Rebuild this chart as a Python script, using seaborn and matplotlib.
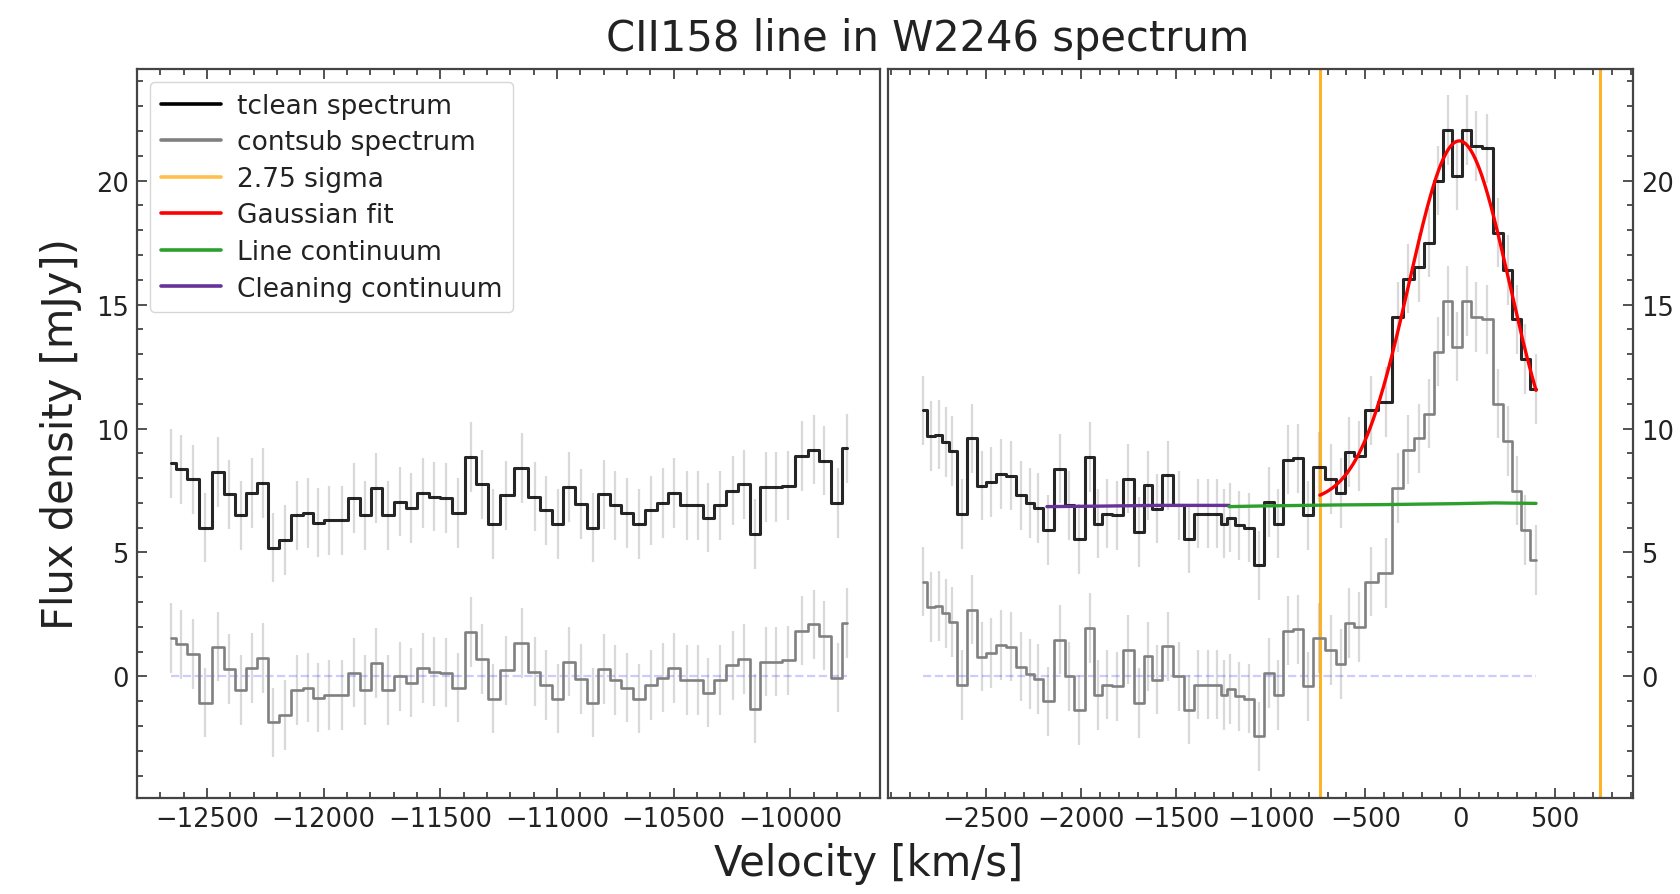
import numpy as np
import pandas as pd
import matplotlib
matplotlib.use("Agg")
import matplotlib.pyplot as plt
from matplotlib.lines import Line2D
from matplotlib.ticker import MultipleLocator, FixedLocator
import seaborn as sns

# ---------------- data ----------------
left_velocity = [-12655, -12610, -12560, -12508, -12452, -12405, -12355, -12308, -12262, -12219,
                 -12165, -12112, -12065, -12022, -11975, -11920, -11869, -11822, -11776, -11722,
                 -11672, -11625, -11575, -11525, -11475, -11422, -11369, -11322, -11272, -11218,
                 -11150, -11094, -11047, -10997, -10947, -10897, -10847, -10797, -10750, -10700,
                 -10647, -10597, -10547, -10497, -10444, -10397, -10354, -10300, -10247, -10197,
                 -10150, -10105, -10060, -10008, -9950, -9900, -9857, -9797, -9757]
left_tclean = [8.6, 8.35, 7.95, 6.0, 8.25, 7.35, 6.5, 7.4, 7.8, 5.2,
               5.5, 6.5, 6.6, 6.2, 6.3, 6.3, 7.2, 6.5, 7.6, 6.5,
               7.05, 6.8, 7.4, 7.25, 7.2, 6.6, 8.85, 7.75, 6.15, 7.3,
               8.4, 7.25, 6.7, 6.15, 7.65, 6.95, 6.0, 7.35, 6.9, 6.6,
               6.15, 6.7, 7.0, 7.4, 6.9, 6.9, 6.4, 6.9, 7.5, 7.75,
               5.75, 7.65, 7.65, 7.7, 8.9, 9.15, 8.7, 7.0, 9.2]
left_contsub = [1.55, 1.3, 0.9, -1.05, 1.2, 0.3, -0.55, 0.35, 0.75, -1.85,
                -1.55, -0.55, -0.45, -0.85, -0.75, -0.75, 0.15, -0.55, 0.55, -0.55,
                0.0, -0.25, 0.35, 0.2, 0.15, -0.45, 1.8, 0.7, -0.9, 0.25,
                1.35, 0.2, -0.35, -0.9, 0.6, -0.1, -1.05, 0.3, -0.15, -0.45,
                -0.9, -0.35, -0.05, 0.35, -0.15, -0.15, -0.65, -0.15, 0.45, 0.7,
                -1.3, 0.6, 0.6, 0.65, 1.85, 2.1, 1.65, -0.05, 2.15]

right_velocity = [-2836, -2790, -2750, -2712, -2680, -2628, -2573, -2525, -2476, -2423,
                  -2371, -2318, -2268, -2228, -2173, -2111, -2063, -2010, -1953, -1909,
                  -1865, -1808, -1750, -1694, -1645, -1602, -1544, -1482, -1430, -1383,
                  -1333, -1283, -1245, -1214, -1166, -1113, -1061, -1008, -960, -908,
                  -857, -805, -744, -682, -630, -584, -535, -471, -392, -326,
                  -273, -216, -164, -115, -67, -15, 34, 82, 144, 201,
                  254, 297, 341, 400]
right_tclean = [10.73, 9.7, 9.75, 9.45, 9.1, 6.56, 9.6, 7.7, 7.84, 8.17,
                8.1, 7.3, 7.0, 6.8, 5.9, 8.38, 6.9, 5.55, 8.85, 6.16,
                6.57, 6.5, 7.98, 5.83, 7.71, 6.77, 8.11, 6.9, 5.56, 6.57,
                6.57, 6.57, 6.16, 6.4, 6.1, 6.0, 4.48, 7.04, 6.16, 8.75,
                8.8, 6.5, 8.45, 7.97, 7.4, 9.05, 8.9, 10.73, 11.07, 14.5,
                16.05, 16.5, 17.5, 20.0, 22.04, 20.2, 22.04, 21.4, 21.3, 17.9,
                16.4, 14.4, 12.8, 11.6]
right_contsub = [3.83, 2.8, 2.85, 2.55, 2.2, -0.34, 2.7, 0.8, 0.94, 1.27,
                 1.2, 0.4, 0.1, -0.1, -1.0, 1.48, 0.0, -1.35, 1.95, -0.74,
                 -0.33, -0.4, 1.08, -1.07, 0.81, -0.13, 1.21, 0.0, -1.34, -0.33,
                 -0.33, -0.33, -0.74, -0.5, -0.8, -0.9, -2.42, 0.14, -0.74, 1.85,
                 1.9, -0.4, 1.55, 1.07, 0.5, 2.15, 2.0, 3.83, 4.17, 7.6,
                 9.15, 9.6, 10.6, 13.1, 15.14, 13.3, 15.14, 14.5, 14.4, 11.0,
                 9.5, 7.5, 5.9, 4.7]
flux_err = 1.4

sigma_limits = [-740, 736]            # 2.75 sigma velocity range

gauss_baseline = 7.0                   # Gaussian fit parameters
gauss_amplitude = 14.6
gauss_center = -5.0
gauss_sigma = 265.0
gauss_range = [-740, 400]

line_cont_velocity = [-1220, -1020, -820, -620, -420, -220, -20, 180, 400]
line_cont_flux = [6.85, 6.88, 6.9, 6.92, 6.93, 6.95, 6.97, 7.0, 6.98]
clean_cont_velocity = [-2180, -1900, -1600, -1220]
clean_cont_flux = [6.85, 6.87, 6.9, 6.9]

left_ticks = [-12500, -12000, -11500, -11000, -10500, -10000]
right_ticks = [-2500, -2000, -1500, -1000, -500, 0, 500]

# ---------------- styling ----------------
sns.set_style("ticks")
plt.rcParams["font.family"] = ["DejaVu Sans"]

C_TCLEAN = "black"
C_CONTSUB = "gray"
C_SIGMA = "orange"
C_FIT = "red"
C_LINECONT = "#2ca02c"
C_CLEANCONT = "rebeccapurple"

fig = plt.figure(figsize=(16.81, 8.95), dpi=100)
axL = fig.add_axes([0.0815, 0.1073, 0.442, 0.8145])
axR = fig.add_axes([0.5283, 0.1073, 0.4432, 0.8145], sharey=axL)


def draw_spectrum(ax, vel, tclean, contsub):
    df = pd.DataFrame({"v": vel, "tclean": tclean, "contsub": contsub})
    for col in ("tclean", "contsub"):
        ax.errorbar(df["v"], df[col], yerr=flux_err, fmt="none",
                    ecolor="#d9d9d9", elinewidth=1.6, zorder=1)
    ax.hlines(0, df["v"].min(), df["v"].max(), colors="blue", alpha=0.2,
              linestyles="--", lw=1.6, zorder=2)
    sns.lineplot(data=df, x="v", y="contsub", ax=ax, color=C_CONTSUB, lw=1.9,
                 drawstyle="steps-mid", estimator=None, sort=False, zorder=3)
    sns.lineplot(data=df, x="v", y="tclean", ax=ax, color=C_TCLEAN, lw=2.2,
                 alpha=0.85, drawstyle="steps-mid", estimator=None, sort=False, zorder=4)


draw_spectrum(axL, left_velocity, left_tclean, left_contsub)
draw_spectrum(axR, right_velocity, right_tclean, right_contsub)

# continua
sns.lineplot(x=clean_cont_velocity, y=clean_cont_flux, ax=axR, color=C_CLEANCONT,
             lw=2.4, estimator=None, sort=False, zorder=5)
sns.lineplot(x=line_cont_velocity, y=line_cont_flux, ax=axR, color=C_LINECONT,
             lw=2.4, estimator=None, sort=False, zorder=5)

# Gaussian fit
v_fit = np.linspace(gauss_range[0], gauss_range[1], 300)
f_fit = gauss_baseline + gauss_amplitude * np.exp(-0.5 * ((v_fit - gauss_center) / gauss_sigma) ** 2)
sns.lineplot(x=v_fit, y=f_fit, ax=axR, color=C_FIT, lw=2.4, estimator=None,
             sort=False, zorder=6)

for xv in sigma_limits:
    axR.axvline(xv, color=C_SIGMA, lw=2.2, alpha=0.85, zorder=2)

# axes formatting
axL.set_xlim(-12800, -9615)
axR.set_xlim(-3018, 912)
axL.set_ylim(-4.9, 24.5)

for ax, ticks in ((axL, left_ticks), (axR, right_ticks)):
    ax.set_xlabel("")
    ax.set_ylabel("")
    ax.xaxis.set_major_locator(FixedLocator(ticks))
    ax.xaxis.set_minor_locator(MultipleLocator(100))
    ax.yaxis.set_major_locator(MultipleLocator(5))
    ax.yaxis.set_minor_locator(MultipleLocator(1))
    ax.tick_params(which="both", direction="in", top=True, bottom=True,
                   labelsize=18.5, pad=6, color="#444", labelcolor="#222", width=1.3)
    ax.tick_params(which="major", length=7)
    ax.tick_params(which="minor", length=4)
    for s in ax.spines.values():
        s.set_linewidth(1.6)
        s.set_color("#444")

axL.tick_params(axis="y", which="both", left=True, right=False,
                labelleft=True, labelright=False)
axR.tick_params(axis="y", which="both", left=False, right=True,
                labelleft=False, labelright=True)

handles = [
    Line2D([], [], color=C_TCLEAN, lw=2.6, label="tclean spectrum"),
    Line2D([], [], color=C_CONTSUB, lw=2.6, label="contsub spectrum"),
    Line2D([], [], color=C_SIGMA, lw=2.6, alpha=0.7, label="2.75 sigma"),
    Line2D([], [], color=C_FIT, lw=2.6, label="Gaussian fit"),
    Line2D([], [], color=C_LINECONT, lw=2.6, label="Line continuum"),
    Line2D([], [], color=C_CLEANCONT, lw=2.6, label="Cleaning continuum"),
]
leg = axL.legend(handles=handles, loc="upper left", fontsize=19, labelspacing=0.4,
                 handlelength=2.3, handletextpad=0.6, borderpad=0.4,
                 frameon=True, framealpha=0.8, edgecolor="#cccccc", fancybox=True)
for t in leg.get_texts():
    t.set_color("#222")

fig.text(0.552, 0.956, "CII158 line in W2246 spectrum", fontsize=30,
         ha="center", va="center", color="#222")
fig.text(0.5167, 0.035, "Velocity [km/s]", fontsize=30, ha="center",
         va="center", color="#222")
fig.text(0.0363, 0.515, "Flux density [mJy])", fontsize=30, ha="center",
         va="center", rotation=90, color="#222")

fig.savefig("out.png", dpi=100)
